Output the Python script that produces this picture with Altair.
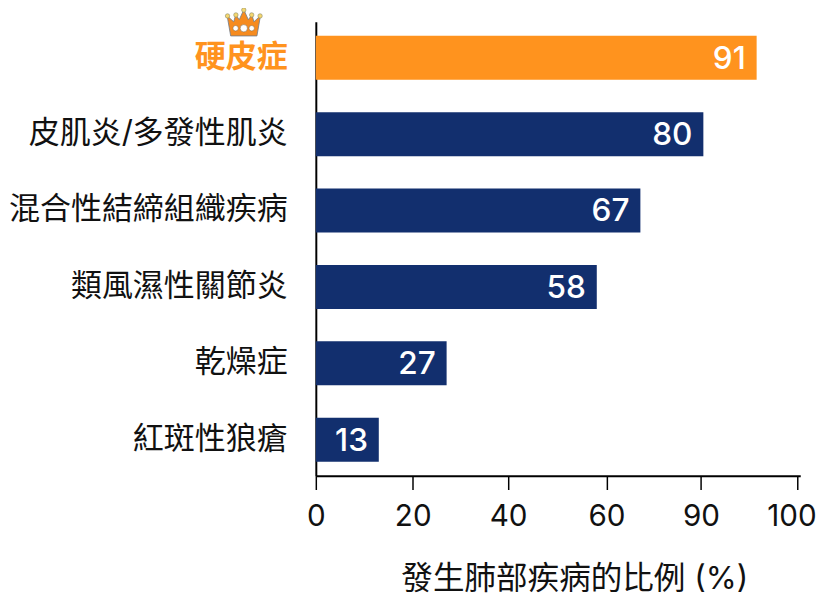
import json
import altair as alt
import pandas as pd

categories = ["硬皮症", "皮肌炎/多發性肌炎", "混合性結締組織疾病", "類風濕性關節炎", "乾燥症", "紅斑性狼瘡"]
values = [91, 80, 67, 58, 27, 13]
tick_values = [0, 20, 39.7, 60, 79.5, 99.4]
tick_labels = ["0", "20", "40", "60", "90", "100"]
x_title = "發生肺部疾病的比例 (%)"
highlight = "硬皮症"

ORANGE = "#FF931E"
NAVY = "#122F6E"
FONT = "Inter, Noto Sans CJK TC"

df = pd.DataFrame({"cat": categories, "val": values})
label_expr = f"{json.dumps(tick_labels)}[indexof({json.dumps(tick_values)}, datum.value)]"

x = alt.X("val:Q", scale=alt.Scale(domain=[0, 100], nice=False),
          axis=alt.Axis(values=tick_values, labelExpr=label_expr, title=x_title, grid=False,
                        domainColor="black", domainWidth=2, tickColor="black", tickWidth=1.5,
                        tickSize=14, labelColor="#111111", labelFontSize=30, labelFont=FONT,
                        labelPadding=13, labelFlush=False, labelOverlap=False,
                        labelOffset={"condition": {"test": "datum.value > 99", "value": -6}, "value": 0},
                        titleFont=FONT, titleFontSize=32, titleFontWeight="normal", titleColor="#111111",
                        titleX=262, titleY=104, titleAnchor="middle", titleBaseline="middle", titleAlign="center"))
y = alt.Y("cat:N", sort=categories, title=None,
          scale=alt.Scale(paddingInner=0.424, paddingOuter=0.183),
          axis=alt.Axis(domainColor="black", domainWidth=2, ticks=False, grid=False,
                        labelFont=FONT, labelFontSize=31.4, labelPadding=29, labelLimit=320,
                        labelColor={"expr": f"datum.value === '{highlight}' ? '{ORANGE}' : '#111111'"},
                        labelFontWeight={"expr": f"datum.value === '{highlight}' ? 'bold' : 'normal'"}))

bars = alt.Chart(df).mark_bar(cornerRadius=0).encode(
    x=x, y=y,
    color=alt.condition(alt.datum.cat == highlight, alt.value(ORANGE), alt.value(NAVY)),
)
labels = alt.Chart(df).mark_text(align="right", baseline="middle", dx=-11, dy=1, color="white",
                                 font=FONT, fontSize=32, fontWeight=500).encode(
    x="val:Q", y=alt.Y("cat:N", sort=categories), text="val:Q")

# crown ornament above the highlighted label (positions in px from the plot's top-left corner)
crown_path = ("M-.916,-.5 L-.556,-.166 L-.444,-.556 L-.25,-.278 L0,-.834 L.25,-.278 "
              "L.444,-.556 L.556,-.166 L.916,-.5 L.722,.612 L-.722,.612 Z")
crown_body = alt.Chart(df.head(1)).mark_point(shape=crown_path, size=1360, filled=True, fill="#F68B1F",
                                               stroke="#6E7B8C", strokeWidth=0.8, opacity=1).encode(
    x=alt.value(-73), y=alt.value(3))
ball_x = [-89.5, -81, -73, -65, -56.5]
ball_y = [-6, -7, -12, -7, -6]
crown_balls = [alt.Chart(df.head(1)).mark_point(filled=True, size=20, fill="#F5D76E", stroke="#8A8A6A",
                                                 strokeWidth=0.6, opacity=1, shape="circle").encode(
    x=alt.value(bx), y=alt.value(by)) for bx, by in zip(ball_x, ball_y)]
gem_x = [-81.3, -73, -65]
gem_size = [30, 55, 30]
crown_gems = [alt.Chart(df.head(1)).mark_point(filled=True, size=s, fill="white", stroke="#7A5A30",
                                                strokeWidth=0.5, opacity=1, shape="circle").encode(
    x=alt.value(g), y=alt.value(6.5)) for g, s in zip(gem_x, gem_size)]

chart = alt.layer(bars, labels, crown_body, *crown_balls, *crown_gems).properties(
    width=491, height=460,
    autosize=alt.AutoSizeParams(type="none"),
    padding={"left": 312, "top": 10, "right": 18, "bottom": 124},
).configure_view(stroke=None)

chart.save("out.html", embed_options={"renderer": "svg", "actions": False})
